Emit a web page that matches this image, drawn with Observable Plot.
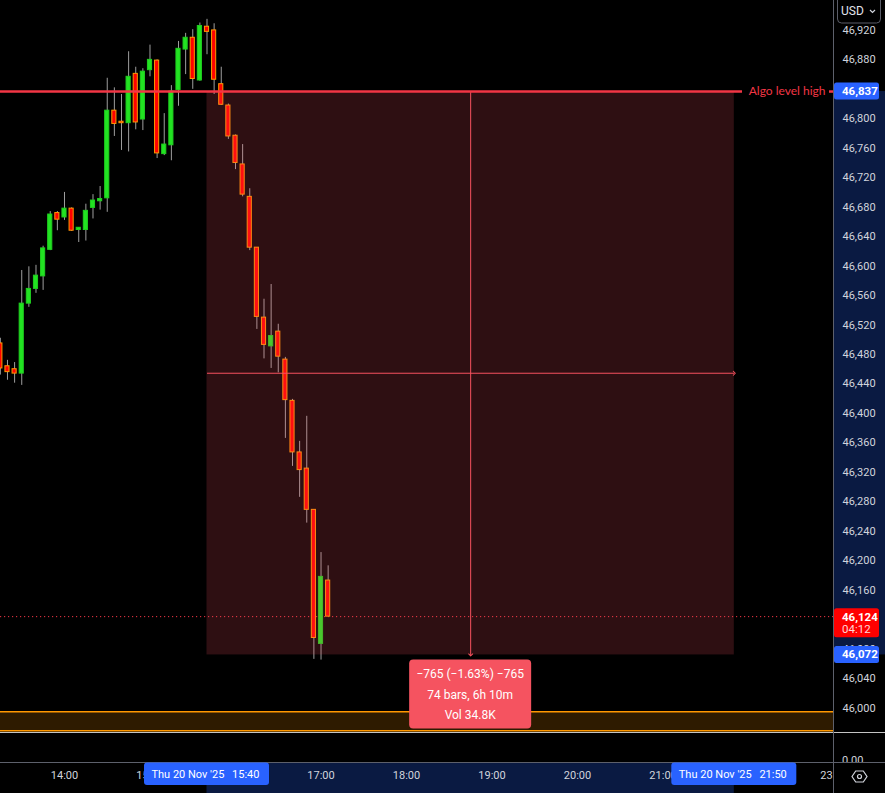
<!DOCTYPE html>
<html>
<head>
<meta charset="utf-8">
<script src="https://cdn.jsdelivr.net/npm/d3@7"></script>
<script src="https://cdn.jsdelivr.net/npm/@observablehq/plot@0.6"></script>
<style>
  html, body { margin: 0; padding: 0; background: #000; }
  #chart svg { display: block; }
</style>
</head>
<body>
<div id="chart"></div>
<script>
// 5-minute candles, Thu 20 Nov '25
const times = ["13:15","13:20","13:25","13:30","13:35","13:40","13:45","13:50","13:55","14:00",
  "14:05","14:10","14:15","14:20","14:25","14:30","14:35","14:40","14:45","14:50",
  "14:55","15:00","15:05","15:10","15:15","15:20","15:25","15:30","15:35","15:40",
  "15:45","15:50","15:55","16:00","16:05","16:10","16:15","16:20","16:25","16:30",
  "16:35","16:40","16:45","16:50","16:55","17:00","17:05"];
const opens = [46495,46464,46460,46454,46549,46569,46586,46622,46672,46666,
  46678,46649,46649,46679,46688,46692,46811,46796,46794,46861,
  46799,46866,46879,46752,46764,46839,46894,46910,46852,46925,
  46920,46847,46818,46777,46738,46694,46625,46530,46491,46511,
  46473,46417,46347,46325,46269,46087,46173];
const highs = [46502,46472,46469,46594,46599,46601,46627,46674,46674,46700,
  46679,46652,46684,46697,46708,46855,46842,46833,46891,46870,
  46868,46900,46880,46807,46845,46905,46916,46921,46930,46935,
  46929,46870,46820,46778,46765,46705,46625,46555,46575,46521,
  46476,46419,46362,46396,46269,46211,46193];
const lows = [46452,46445,46441,46438,46544,46563,46567,46621,46648,46662,
  46647,46632,46634,46664,46676,46673,46776,46757,46755,46785,
  46784,46857,46746,46750,46743,46817,46860,46840,46851,46887,
  46833,46818,46772,46731,46694,46621,46514,46474,46461,46455,
  46366,46328,46286,46251,46066,46065,46124];
const closes = [46461,46456,46454,46549,46569,46587,46624,46670,46663,46678,
  46648,46652,46675,46689,46691,46811,46793,46794,46857,46795,
  46864,46880,46753,46765,46837,46895,46910,46854,46926,46918,
  46853,46819,46776,46740,46697,46625,46531,46493,46505,46477,
  46418,46347,46323,46269,46095,46178,46124];

// Axis ticks (those hidden under the range badges are left out)
const priceTicks = [46000,46040,46080,46160,46200,46240,46280,46320,46360,46400,46440,
  46480,46520,46560,46600,46640,46680,46720,46760,46800,46880,46920];
const hourLabels = ["14:00","15:00","17:00","18:00","19:00","20:00","21:00","23:00"];

// Drawings and price labels
const algoLevel = 46837;
const algoLabel = "Algo level high";
const lastPrice = 46124;
const countdown = "04:12";
const zoneTop = 45995;
const zoneBottom = 45969;
const measureStart = "15:40";
const measureEnd = "21:50";
const measureHigh = 46837;
const measureLow = 46072;
const measureVolume = 34800;
const barMinutes = 5;
const dayLabel = "Thu 20 Nov '25";
const currency = "USD";

const toMin = s => { const [h, m] = s.split(":").map(Number); return h * 60 + m; };
const candles = times.map((t, i) => ({t: toMin(t), o: opens[i], h: highs[i], l: lows[i], c: closes[i]}));
const tStart = toMin(measureStart), tEnd = toMin(measureEnd);
const measure = {x1: tStart, x2: tEnd, y1: measureLow, y2: measureHigh,
  xm: (tStart + tEnd) / 2, ym: (measureHigh + measureLow) / 2};

const W = 885, H = 793, mR = 52, mB = 61;
const paneH = 30;
const up = d => d.c >= d.o;
const halfBody = 1.45;
const fmtTime = m => String(Math.floor(m / 60)).padStart(2, "0") + ":" + String(m % 60).padStart(2, "0");

const plot = Plot.plot({
  width: W, height: H,
  marginLeft: 0, marginTop: 0, marginRight: mR, marginBottom: mB,
  style: {background: "#000", color: "#d1d4dc", fontFamily: "Roboto, sans-serif", fontSize: "11px"},
  x: {domain: [795.1, 1379.6]},
  y: {domain: [45966.7, 46960.6]},
  color: {type: "identity"},
  marks: [
    // support zone
    Plot.rect([{lo: zoneBottom, hi: zoneTop}], {y1: "lo", y2: "hi", fill: "#ff9800", fillOpacity: 0.18}),
    Plot.ruleY([zoneTop, zoneBottom], {stroke: "#ff9800", strokeWidth: 1.5}),
    // last price
    Plot.ruleY([lastPrice], {stroke: "#f23645", strokeDasharray: "1.2,2.8"}),
    // candles
    Plot.ruleX(candles, {x: "t", y1: "l", y2: "h", stroke: "#9e9e9e", clip: true}),
    Plot.rect(candles, {
      x1: d => d.t - halfBody, x2: d => d.t + halfBody, y1: "o", y2: "c",
      fill: d => up(d) ? "#22e322" : "#ff0000",
      stroke: d => up(d) ? "#1fcf1f" : "#ff9800",
      strokeWidth: 1, clip: true
    }),
    // date & price range
    Plot.rect([measure], {x1: "x1", x2: "x2", y1: "y1", y2: "y2", fill: "#f7525f", fillOpacity: 0.19}),
    Plot.link([measure], {x1: "x1", x2: "x2", y1: "ym", y2: "ym", stroke: "#f7525f", strokeWidth: 1, markerEnd: "arrow"}),
    Plot.link([measure], {x1: "xm", x2: "xm", y1: "y2", y2: "y1", stroke: "#f7525f", strokeWidth: 1, markerEnd: "arrow"}),
    // algo level line
    Plot.ruleY([algoLevel], {stroke: "#f23645", strokeWidth: 2.5, insetRight: 91}),
    Plot.ruleY([algoLevel], {stroke: "#f23645", strokeWidth: 2.5, insetLeft: 829}),
    Plot.text([algoLevel], {y: d => d, frameAnchor: "right", dx: -8, textAnchor: "end",
      text: () => algoLabel, fill: "#f23645", fontSize: 12, fontFamily: "Lato, sans-serif"}),
    // axes
    Plot.axisY(priceTicks, {anchor: "right", tickSize: 0, tickPadding: 9, label: null,
      tickFormat: d3.format(",")}),
    Plot.axisX(hourLabels.map(toMin), {anchor: "bottom", tickSize: 0, tickPadding: 39, label: null,
      tickFormat: fmtTime})
  ]
});

document.getElementById("chart").appendChild(plot);

const svg = d3.select(plot);
const xs = v => plot.scale("x").apply(v);
const ys = v => plot.scale("y").apply(v);
const right = W - mR;            // price axis edge
const paneTop = H - mB;          // bottom of main pane
const axisTop = paneTop + paneH; // top of time axis

// highlighted ranges on both axes (behind labels)
const back = svg.insert("g", ":first-child");
back.append("rect").attr("x", right).attr("y", ys(measureHigh))
  .attr("width", mR).attr("height", ys(measureLow) - ys(measureHigh)).attr("fill", "#0a1a42");
back.append("rect").attr("x", xs(tStart)).attr("y", axisTop)
  .attr("width", xs(tEnd) - xs(tStart)).attr("height", H - axisTop).attr("fill", "#0a1a42");

const front = svg.append("g")
  .attr("text-anchor", "start")
  .style("font-family", "Roboto, sans-serif");

// indicator pane
front.append("line").attr("x1", 0).attr("x2", W).attr("y1", paneTop + 0.5).attr("y2", paneTop + 0.5)
  .attr("stroke", "#c4c4c4");
front.append("text").attr("x", right + 9).attr("y", axisTop - 2).attr("dominant-baseline", "central")
  .attr("fill", "#d1d4dc").attr("font-size", 11).text("0.00");
front.append("rect").attr("x", right).attr("y", axisTop).attr("width", mR).attr("height", H - axisTop).attr("fill", "#000");
front.append("line").attr("x1", 0).attr("x2", W).attr("y1", axisTop + 0.5).attr("y2", axisTop + 0.5)
  .attr("stroke", "#5d606b");
front.append("line").attr("x1", right + 0.5).attr("x2", right + 0.5).attr("y1", 0).attr("y2", H)
  .attr("stroke", "#5d606b");

// price badges
function badge(price, color, lines) {
  const h = lines.length > 1 ? 29 : 17;
  const top = lines.length > 1 ? ys(price) - 8 : ys(price) - h / 2;
  front.append("rect").attr("x", right + 1).attr("y", top).attr("width", 45).attr("height", h)
    .attr("rx", 2.5).attr("fill", color);
  lines.forEach((s, i) => {
    front.append("text").attr("x", right + 9).attr("y", top + 8.5 + i * 12.5)
      .attr("dominant-baseline", "central").attr("font-size", 11.5).attr("font-weight", i ? 400 : 700)
      .attr("fill", i ? "#ffd6d6" : "#fff").text(s);
  });
}
badge(algoLevel, "#2962ff", [d3.format(",")(algoLevel)]);
badge(lastPrice, "#ff0000", [d3.format(",")(lastPrice), countdown]);
badge(measureLow, "#2962ff", [d3.format(",")(measureLow)]);

// time badges
[tStart, tEnd].forEach(t => {
  const cx = xs(t);
  front.append("rect").attr("x", cx - 62.5).attr("y", axisTop + 0.5).attr("width", 125).attr("height", 22.5)
    .attr("rx", 3).attr("fill", "#2962ff");
  front.append("text").attr("x", cx - 55).attr("y", axisTop + 12.5).attr("dominant-baseline", "central")
    .attr("font-size", 11).attr("fill", "#fff").text(dayLabel);
  front.append("text").attr("x", cx + 53).attr("y", axisTop + 12.5).attr("dominant-baseline", "central")
    .attr("text-anchor", "end").attr("font-size", 11).attr("fill", "#fff").text(fmtTime(t));
});

// range info box
const change = measureLow - measureHigh;
const pct = change / measureHigh * 100;
const span = tEnd - tStart;
const infoLines = [
  `${d3.format("d")(change)} (${d3.format(".2f")(pct)}%) ${d3.format("d")(change)}`,
  `${span / barMinutes} bars, ${Math.floor(span / 60)}h ${span % 60}m`,
  `Vol ${(measureVolume / 1000).toFixed(1)}K`
];
const bx = xs(measure.xm), by = ys(measureLow) + 5;
front.append("rect").attr("x", bx - 61).attr("y", by).attr("width", 122).attr("height", 69)
  .attr("rx", 4).attr("fill", "#f55360");
infoLines.forEach((s, i) => {
  front.append("text").attr("x", bx).attr("y", by + 15 + i * 20.5).attr("text-anchor", "middle")
    .attr("dominant-baseline", "central").attr("font-size", 12).attr("fill", "#fff").text(s);
});

// currency button
front.append("rect").attr("x", right + 4.5).attr("y", -4).attr("width", 43).attr("height", 27)
  .attr("rx", 4).attr("fill", "#000").attr("stroke", "#5a5d68");
front.append("text").attr("x", right + 8).attr("y", 11).attr("dominant-baseline", "central")
  .attr("font-size", 12).attr("fill", "#e0e3eb").text(currency);
front.append("path").attr("d", `M${right + 37},10 l2.5,2.5 l2.5,-2.5`).attr("fill", "none")
  .attr("stroke", "#d1d4dc").attr("stroke-width", 1.2);

// settings icon
const gx = right + 26.5, gy = axisTop + 14.5;
front.append("path")
  .attr("d", `M${gx - 7.5},${gy} L${gx - 3.8},${gy - 5.5} L${gx + 3.8},${gy - 5.5} L${gx + 7.5},${gy} L${gx + 3.8},${gy + 5.5} L${gx - 3.8},${gy + 5.5} Z`)
  .attr("fill", "none").attr("stroke", "#d1d4dc").attr("stroke-width", 1.2);
front.append("circle").attr("cx", gx).attr("cy", gy).attr("r", 2).attr("fill", "none")
  .attr("stroke", "#d1d4dc").attr("stroke-width", 1.2);
</script>
</body>
</html>
